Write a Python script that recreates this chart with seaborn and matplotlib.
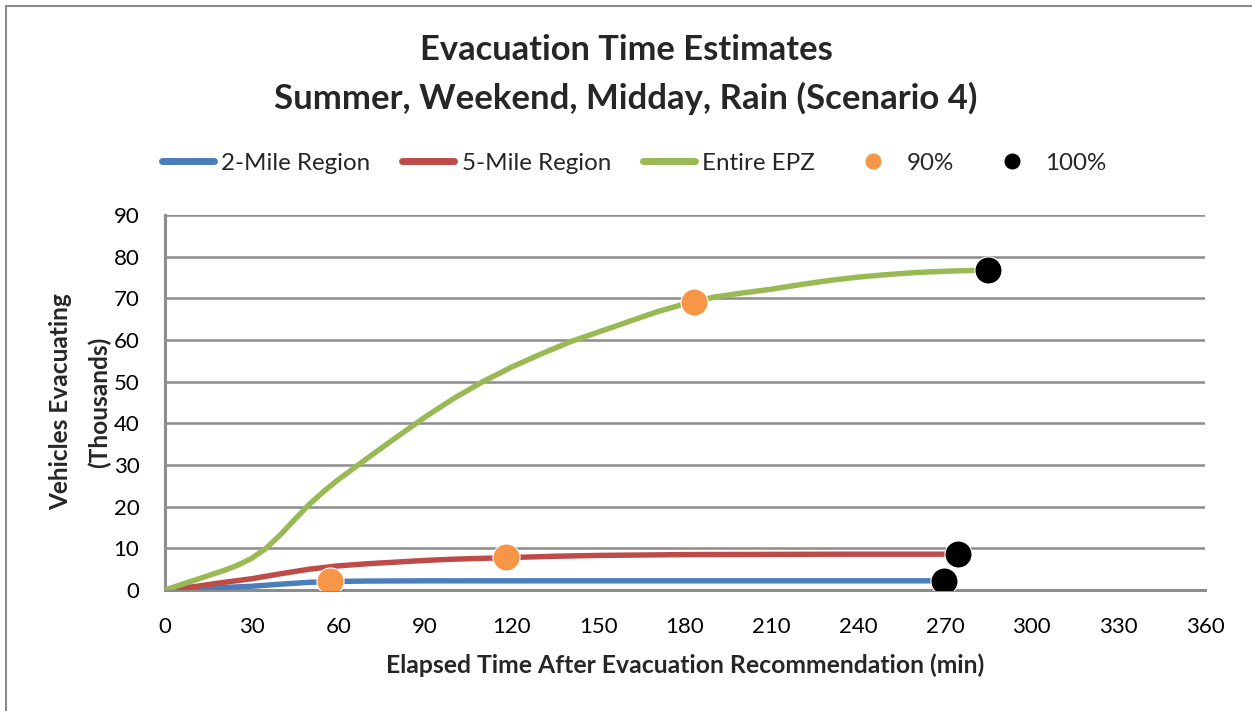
import matplotlib
matplotlib.use("Agg")
import matplotlib.pyplot as plt
from matplotlib.lines import Line2D
import seaborn as sns
import pandas as pd

# ---- data ----
t_2mile = [0, 10, 20, 30, 40, 50, 60, 70, 90, 120, 150, 180, 210, 240, 270]
v_2mile = [0, 0.3, 0.6, 0.9, 1.4, 1.85, 2.05, 2.15, 2.2, 2.2, 2.2, 2.2, 2.2, 2.2, 2.2]

t_5mile = [0, 10, 20, 30, 40, 50, 60, 70, 80, 90, 100, 110, 120, 135, 150, 165, 180, 210, 240, 275]
v_5mile = [0, 0.8, 1.8, 2.7, 3.9, 5.0, 5.8, 6.3, 6.7, 7.1, 7.4, 7.6, 7.8, 8.1, 8.3, 8.4, 8.5, 8.55, 8.6, 8.6]

t_epz = [0, 10, 20, 25, 30, 35, 40, 45, 50, 55, 60, 70, 80, 90, 100, 110, 120, 130, 140,
         150, 160, 170, 180, 190, 200, 210, 220, 230, 240, 250, 260, 270, 280, 285]
v_epz = [0, 2.3, 4.6, 5.9, 7.6, 10.0, 13.3, 17.0, 20.6, 23.7, 26.5, 31.6, 36.6, 41.5,
         46.0, 50.0, 53.5, 56.6, 59.5, 61.9, 64.3, 66.7, 68.7, 70.3, 71.3, 72.2, 73.3,
         74.3, 75.1, 75.7, 76.2, 76.5, 76.7, 76.8]

t_90 = [57, 118, 183]
v_90 = [2.1, 7.9, 69.1]
t_100 = [269.5, 274.5, 285]
v_100 = [2.2, 8.6, 76.8]

series_names = ["2-Mile Region", "5-Mile Region", "Entire EPZ"]
series_colors = ["#4A7EBB", "#BE4B48", "#98B954"]
x_ticks = list(range(0, 361, 30))
y_ticks = list(range(0, 91, 10))

lines_df = pd.concat([
    pd.DataFrame({"t": t_2mile, "v": v_2mile, "Region": series_names[0]}),
    pd.DataFrame({"t": t_5mile, "v": v_5mile, "Region": series_names[1]}),
    pd.DataFrame({"t": t_epz, "v": v_epz, "Region": series_names[2]}),
], ignore_index=True)

pts90 = pd.DataFrame({"t": t_90, "v": v_90})
pts100 = pd.DataFrame({"t": t_100, "v": v_100})

sns.set_theme(style="white")
plt.rcParams["font.family"] = ["Lato", "DejaVu Sans"]

W, H = 1252, 711
fig = plt.figure(figsize=(W / 100, H / 100), dpi=100)
ax = fig.add_axes([165 / W, 1 - 590 / H, 1040 / W, 375 / H])

grid_color = "#8C8C8C"
for yv in y_ticks[1:]:
    ax.axhline(yv, color=grid_color, lw=1.8, zorder=0)

sns.lineplot(data=lines_df, x="t", y="v", hue="Region", hue_order=series_names,
             palette=series_colors, linewidth=3.9, ax=ax, legend=False,
             estimator=None, sort=True, zorder=3, solid_capstyle="butt")
sns.scatterplot(data=pts90, x="t", y="v", color="#F79646", s=380, edgecolor="white",
                linewidth=0.8, ax=ax, zorder=5, legend=False)
sns.scatterplot(data=pts100, x="t", y="v", color="black", s=380, edgecolor="white",
                linewidth=0.8, ax=ax, zorder=5, legend=False)

ax.set_xlim(0, 360)
ax.set_ylim(0, 90)
ax.set_xticks(x_ticks)
ax.set_yticks(y_ticks)
ax.tick_params(axis="x", direction="in", length=6, width=1.8, color=grid_color,
               labelsize=16, pad=19.5, labelcolor="black")
ax.tick_params(axis="y", length=0, labelsize=16, pad=18.5, labelcolor="black")
for side in ["top", "right"]:
    ax.spines[side].set_visible(False)
for side in ["left", "bottom"]:
    ax.spines[side].set_color(grid_color)
    ax.spines[side].set_linewidth(2.2)
ax.set_xlabel("")
ax.set_ylabel("")

fig.text(685 / W, 1 - 665 / H, "Elapsed Time After Evacuation Recommendation (min)",
         ha="center", va="center", fontsize=17.8, fontweight="bold")
fig.text(80 / W, 1 - 402 / H, "Vehicles Evacuating\n(Thousands)", ha="center",
         va="center", rotation=90, fontsize=17.6, fontweight="bold", linespacing=1.8,
         multialignment="center")

fig.text(0.5, 1 - 50 / H, "Evacuation Time Estimates", ha="center", va="center",
         fontsize=24.8, fontweight="bold")
fig.text(0.5, 1 - 98 / H, "Summer, Weekend, Midday, Rain (Scenario 4)", ha="center",
         va="center", fontsize=25, fontweight="bold")

handles = [Line2D([], [], color=c, lw=5, solid_capstyle="round") for c in series_colors]
handles += [Line2D([], [], color="#F79646", marker="o", ls="", markersize=10.5),
            Line2D([], [], color="black", marker="o", ls="", markersize=10.5)]
labels = series_names + ["90%", "100%"]
fig.legend(handles, labels, loc="center", bbox_to_anchor=(634 / W, 1 - 163 / H), ncol=5,
           frameon=False, fontsize=17.4, handlelength=2.15, handletextpad=0.3,
           columnspacing=1.33)

# outer chart border (left and top edges visible)
fig.add_artist(Line2D([6 / W, 6 / W], [0, 1 - 6 / H], transform=fig.transFigure,
                      color="#8C8C8C", lw=1.5))
fig.add_artist(Line2D([6 / W, 1], [1 - 6 / H, 1 - 6 / H], transform=fig.transFigure,
                      color="#8C8C8C", lw=1.5))

fig.savefig("out.png", dpi=100)
